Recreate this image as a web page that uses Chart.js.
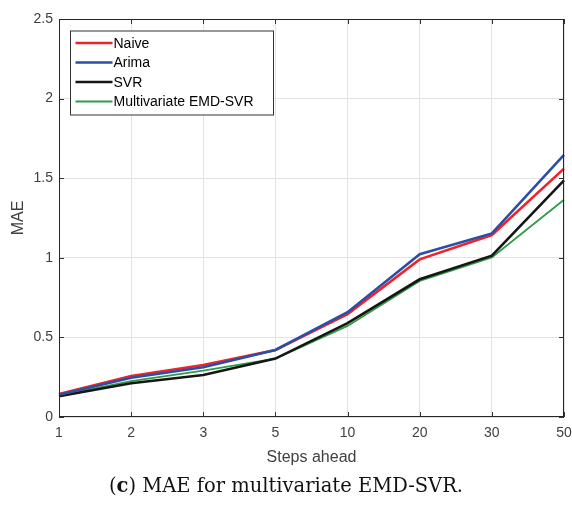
<!DOCTYPE html>
<html>
<head>
<meta charset="utf-8">
<script src="https://cdn.jsdelivr.net/npm/chart.js@4"></script>
<style>
  body { margin: 0; background: #fff; }
  #wrap { position: relative; width: 572px; height: 511px; }
  #caption {
    position: absolute; left: 0; top: 474px; width: 572px;
    text-align: center; font-family: "DejaVu Serif", serif; font-size: 19.5px; color: #111;
  }
</style>
</head>
<body>
<div id="wrap">
  <canvas id="myChart" width="572" height="511"></canvas>
  <div id="caption">(<b>c</b>) MAE for multivariate EMD-SVR.</div>
</div>
<script>
// passos a frente (eixo x)
const steps = ['1', '2', '3', '5', '10', '20', '30', '50'];

// MAE de cada modelo
const naive = [0.145, 0.258, 0.327, 0.421, 0.646, 0.99, 1.143, 1.56];
const arima = [0.14, 0.247, 0.312, 0.421, 0.658, 1.022, 1.153, 1.646];
const svr = [0.13, 0.212, 0.264, 0.367, 0.589, 0.865, 1.013, 1.486];
const emdsvr = [0.135, 0.226, 0.291, 0.367, 0.572, 0.855, 1.002, 1.365];

const yTicks = [0, 0.5, 1, 1.5, 2, 2.5];

const fonte = 'Liberation Sans, Arial, sans-serif';
const cinza = '#404040';

//caixa em volta + marcas de tick para dentro (estilo matlab)
const caixa = {
  id: 'caixa',
  afterDatasetsDraw(chart) {
    const ctx = chart.ctx, a = chart.chartArea;
    const x = chart.scales.x, y = chart.scales.y;
    ctx.save();
    ctx.strokeStyle = '#333';
    ctx.lineWidth = 1;
    ctx.beginPath();
    for (let i = 0; i < x.ticks.length; i++) {
      const px = Math.round(x.getPixelForTick(i)) + 0.5;
      ctx.moveTo(px, a.bottom); ctx.lineTo(px, a.bottom - 5);
      ctx.moveTo(px, a.top); ctx.lineTo(px, a.top + 5);
    }
    for (let i = 0; i < y.ticks.length; i++) {
      const py = Math.round(y.getPixelForTick(i)) + 0.5;
      ctx.moveTo(a.left, py); ctx.lineTo(a.left + 5, py);
      ctx.moveTo(a.right, py); ctx.lineTo(a.right - 5, py);
    }
    ctx.stroke();
    ctx.strokeStyle = '#262626';
    ctx.strokeRect(Math.round(a.left) + 0.5, Math.round(a.top) + 0.5,
      Math.round(a.right - a.left) - 1, Math.round(a.bottom - a.top) - 1);

    // legenda
    const lx = a.left + 11.5, ly = a.top + 12;
    const w = 203, h = 84;
    ctx.fillStyle = '#fff';
    ctx.fillRect(lx, ly, w, h);
    ctx.strokeStyle = '#333';
    ctx.strokeRect(lx, ly, w, h);
    ctx.font = '14px ' + fonte;
    ctx.textBaseline = 'middle';
    chart.data.datasets.forEach((ds, i) => {
      const yy = ly + 12 + i * 19.5;
      ctx.strokeStyle = ds.borderColor;
      ctx.lineWidth = ds.borderWidth;
      ctx.beginPath();
      ctx.moveTo(lx + 5, yy); ctx.lineTo(lx + 42, yy);
      ctx.stroke();
      ctx.fillStyle = '#000';
      ctx.fillText(ds.label, lx + 43, yy + 1);
    });
    ctx.restore();
  }
};

const data = {
  labels: steps,
  datasets: [
    { label: 'Naive', data: naive, borderColor: '#f0232b', borderWidth: 2.6 },
    { label: 'Arima', data: arima, borderColor: '#2b4fa6', borderWidth: 2.6 },
    { label: 'SVR', data: svr, borderColor: '#161616', borderWidth: 2.6 },
    { label: 'Multivariate EMD-SVR', data: emdsvr, borderColor: '#2f9b46', borderWidth: 1.8 }
  ]
};
// ordem de desenho: verde por baixo
data.datasets.forEach((d, i) => { d.pointRadius = 0; d.tension = 0; d.fill = false; d.order = [3, 0, 2, 4][i]; });

const config = {
  type: 'line',
  data: data,
  options: {
    responsive: false,
    animation: false,
    layout: { padding: { top: 19, right: 8, bottom: 44, left: 0 } },
    plugins: { legend: { display: false }, tooltip: { enabled: false } },
    scales: {
      x: {
        offset: false,
        grid: { color: '#e3e3e3', drawTicks: false },
        border: { display: false },
        ticks: { color: cinza, font: { family: fonte, size: 14 }, padding: 8, maxRotation: 0, autoSkip: false },
        title: { display: true, text: 'Steps ahead', color: cinza, font: { family: fonte, size: 16 }, padding: { top: 1, bottom: 0 } },
        afterFit(s) { s.height = 50; s.paddingLeft = 0; s.paddingRight = 0; }
      },
      y: {
        min: 0, max: 2.5,
        afterBuildTicks(s) { s.ticks = yTicks.map(v => ({ value: v })); },
        grid: { color: '#e3e3e3', drawTicks: false },
        border: { display: false },
        ticks: { color: cinza, font: { family: fonte, size: 14 }, padding: 6, callback: v => String(v) },
        title: { display: true, text: 'MAE', color: cinza, font: { family: fonte, size: 16 }, padding: { top: 9, bottom: 4 } },
        afterFit(s) { s.width = 59; s.paddingTop = 0; s.paddingBottom = 0; }
      }
    }
  },
  plugins: [caixa]
};

const myChart = new Chart(document.getElementById('myChart'), config);
</script>
</body>
</html>
